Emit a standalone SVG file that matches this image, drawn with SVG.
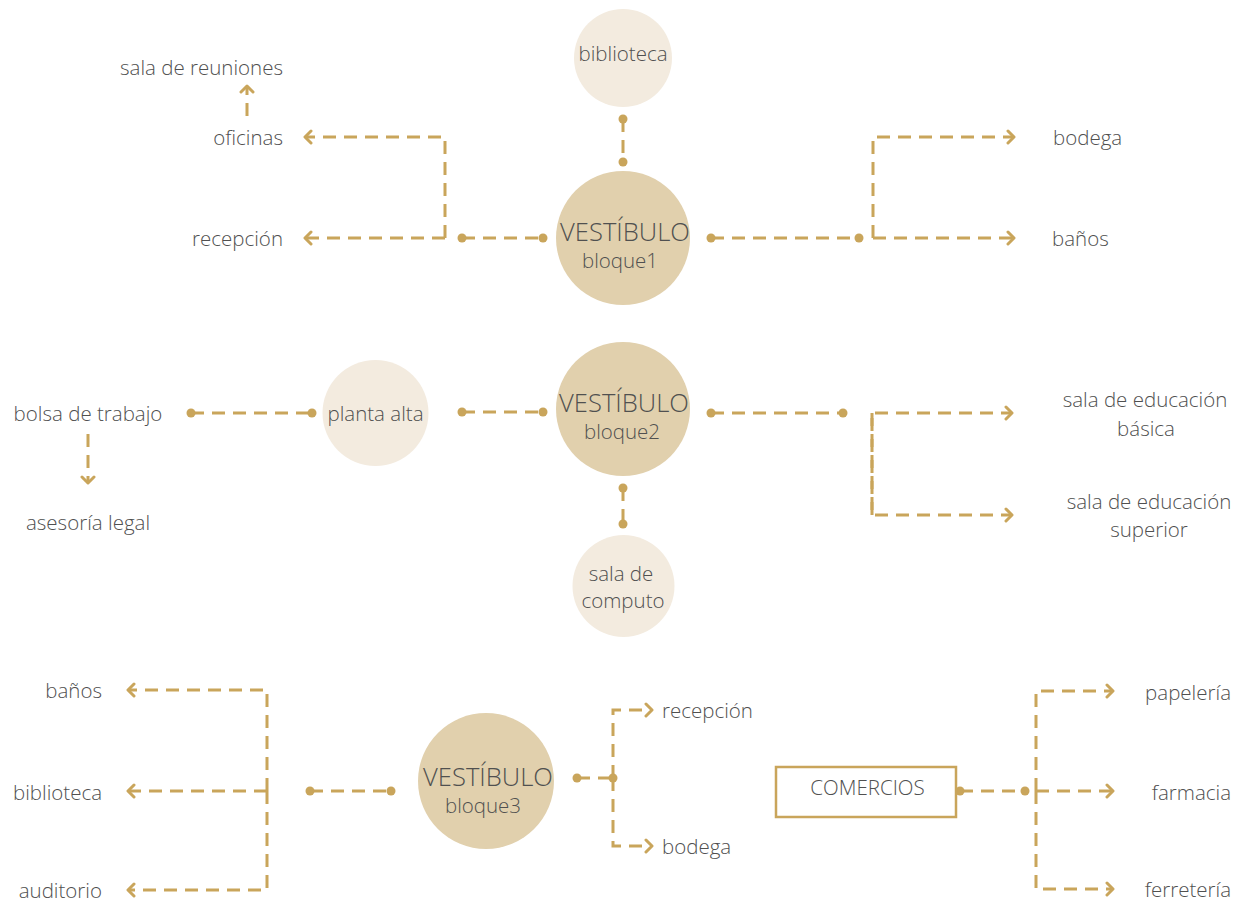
<svg xmlns="http://www.w3.org/2000/svg" width="1238" height="903" viewBox="0 0 1238 903">
<defs>
<style>
.t{font-family:"Open Sans","Noto Sans","Liberation Sans",sans-serif;font-size:20.5px;font-weight:300;fill:#505050}
.big{font-size:25.6px}
.m{text-anchor:middle}
.e{text-anchor:end}
.c1{fill:#e1d0ad}
.c2{fill:#f3ebdf}
.ln{fill:none;stroke:#c9a55b;stroke-width:3;stroke-dasharray:13 8}
.ar{marker-end:url(#arw)}
.dot{fill:#c9a55b}
</style>
<marker id="arw" markerUnits="userSpaceOnUse" markerWidth="14" markerHeight="16" refX="8" refY="8" orient="auto" viewBox="0 0 14 16">
<path d="M2,2 L8,8 L2,14" fill="none" stroke="#c9a55b" stroke-width="3" stroke-linecap="round" stroke-linejoin="round"/>
</marker>
</defs>
<rect width="1238" height="903" fill="#ffffff"/>

<g id="connectors">
<path class="ln" d="M623,119 V162"/>
<circle class="dot" cx="623" cy="119" r="4.5"/><circle class="dot" cx="623" cy="162" r="4.5"/>
<path class="ln" d="M462,238 H543"/>
<circle class="dot" cx="462" cy="238" r="4.5"/><circle class="dot" cx="543" cy="238" r="4.5"/>
<path class="ln ar" d="M445,238 V137 H305"/>
<path class="ln ar" d="M445,238 H305"/>
<path class="ln ar" d="M247,116 V86"/>
<path class="ln" d="M711,238 H859"/>
<circle class="dot" cx="711" cy="238" r="4.5"/><circle class="dot" cx="859" cy="238" r="4.5"/>
<path class="ln ar" d="M873,238 V137 H1014"/>
<path class="ln ar" d="M873,238 H1014"/>

<path class="ln" d="M191,413 H312"/>
<circle class="dot" cx="191" cy="413" r="4.5"/><circle class="dot" cx="312" cy="413" r="4.5"/>
<path class="ln" d="M462,412 H543"/>
<circle class="dot" cx="462" cy="412" r="4.5"/><circle class="dot" cx="543" cy="412" r="4.5"/>
<path class="ln ar" d="M88,434 V483"/>
<path class="ln" d="M711,413 H843"/>
<circle class="dot" cx="711" cy="413" r="4.5"/><circle class="dot" cx="843" cy="413" r="4.5"/>
<path class="ln ar" d="M872,515 V413 H1012"/>
<path class="ln ar" d="M872,413 V515 H1012"/>
<path class="ln" d="M623,488 V524"/>
<circle class="dot" cx="623" cy="488" r="4.5"/><circle class="dot" cx="623" cy="524" r="4.5"/>

<path class="ln" d="M310,791 H391"/>
<circle class="dot" cx="310" cy="791" r="4.5"/><circle class="dot" cx="391" cy="791" r="4.5"/>
<path class="ln ar" d="M267,791 V690 H128"/>
<path class="ln ar" d="M267,791 H128"/>
<path class="ln ar" d="M267,791 V890 H128"/>
<path class="ln" d="M577,778 H613"/>
<circle class="dot" cx="577" cy="778" r="4.5"/><circle class="dot" cx="613" cy="778" r="4.5"/>
<path class="ln ar" d="M613,778 V710 H652"/>
<path class="ln ar" d="M613,778 V846 H652"/>
<path class="ln" d="M960,791 H1025"/>
<circle class="dot" cx="960" cy="791" r="4.5"/><circle class="dot" cx="1025" cy="791" r="4.5"/>
<path class="ln ar" d="M1036,791 V691 H1113"/>
<path class="ln ar" d="M1036,791 H1113"/>
<path class="ln ar" d="M1036,791 V889 H1113"/>
</g>

<g id="biblioteca1"><circle class="c2" cx="623" cy="58" r="49"/><text class="t m" x="623" y="61">biblioteca</text></g>
<g id="vestibulo1"><circle class="c1" cx="623" cy="238" r="67"/><text class="t big m" x="625" y="241">VESTÍBULO</text><text class="t m" x="620" y="268">bloque1</text></g>
<g id="sala-reuniones"><text class="t e" x="283" y="75">sala de reuniones</text></g>
<g id="oficinas"><text class="t e" x="283" y="145">oficinas</text></g>
<g id="recepcion1"><text class="t e" x="283" y="246">recepción</text></g>
<g id="bodega1"><text class="t" x="1053" y="145">bodega</text></g>
<g id="banos1"><text class="t" x="1052" y="246">baños</text></g>

<g id="vestibulo2"><circle class="c1" cx="623" cy="409" r="67"/><text class="t big m" x="624" y="412">VESTÍBULO</text><text class="t m" x="622" y="439">bloque2</text></g>
<g id="planta-alta"><circle class="c2" cx="375.5" cy="413" r="53"/><text class="t m" x="375.5" y="421">planta alta</text></g>
<g id="bolsa"><text class="t m" x="88" y="421">bolsa de trabajo</text></g>
<g id="asesoria"><text class="t m" x="88" y="530">asesoría legal</text></g>
<g id="computo"><circle class="c2" cx="623.5" cy="586" r="51"/><text class="t m" x="621" y="581">sala de</text><text class="t m" x="623" y="608">computo</text></g>
<g id="edu-basica"><text class="t m" x="1145" y="407">sala de educación</text><text class="t m" x="1146" y="436">básica</text></g>
<g id="edu-superior"><text class="t m" x="1149" y="509">sala de educación</text><text class="t m" x="1149" y="537">superior</text></g>

<g id="vestibulo3"><circle class="c1" cx="486" cy="781" r="68"/><text class="t big m" x="488" y="786">VESTÍBULO</text><text class="t m" x="483" y="813">bloque3</text></g>
<g id="banos3"><text class="t e" x="102" y="698">baños</text></g>
<g id="biblioteca3"><text class="t e" x="102" y="800">biblioteca</text></g>
<g id="auditorio"><text class="t e" x="102" y="898">auditorio</text></g>
<g id="recepcion3"><text class="t" x="662" y="718">recepción</text></g>
<g id="bodega3"><text class="t" x="662" y="854">bodega</text></g>
<g id="comercios"><rect x="776" y="767" width="180" height="50" fill="#ffffff" stroke="#c9a55b" stroke-width="2.5"/><text class="t m" x="867.5" y="795">COMERCIOS</text></g>
<g id="papeleria"><text class="t e" x="1231" y="700">papelería</text></g>
<g id="farmacia"><text class="t e" x="1231" y="800">farmacia</text></g>
<g id="ferreteria"><text class="t e" x="1231" y="897">ferretería</text></g>
</svg>
